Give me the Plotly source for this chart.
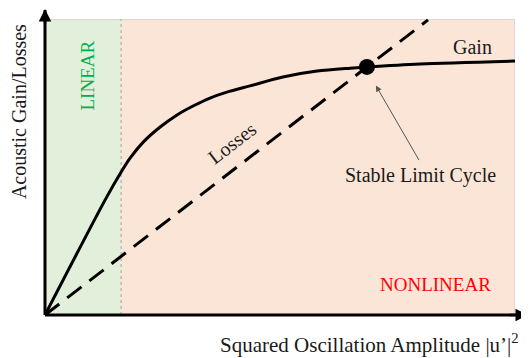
import plotly.graph_objects as go

# ---- data (arbitrary units, x: 0..10, y: 0..10) ----
gain_x = [0, 1.28, 1.62, 1.81, 2.09, 2.45, 2.81, 3.15, 3.51, 3.87, 4.36, 5.06, 5.79, 6.49, 6.85, 7.98, 10.0]
gain_y = [0, 3.89, 4.83, 5.30, 5.84, 6.35, 6.76, 7.06, 7.33, 7.53, 7.74, 8.04, 8.24, 8.34, 8.38, 8.48, 8.58]
loss_x = [0, 8.15]
loss_y = [0, 9.97]
limit_x = [6.85]
limit_y = [8.38]
linear_end = 1.62

FONT = "Liberation Serif, Times New Roman, serif"
TXT = "#1a1a1a"

fig = go.Figure()
fig.add_trace(go.Scatter(x=gain_x, y=gain_y, mode="lines", line=dict(color="black", width=3, shape="spline", smoothing=0.8),
                         hoverinfo="skip", showlegend=False))
fig.add_trace(go.Scatter(x=loss_x, y=loss_y, mode="lines", line=dict(color="black", width=3, dash="18px,10px"),
                         hoverinfo="skip", showlegend=False))
fig.add_trace(go.Scatter(x=limit_x, y=limit_y, mode="markers", marker=dict(color="black", size=16),
                         hoverinfo="skip", showlegend=False))

shapes = [
    dict(type="rect", xref="x", yref="y", x0=0, x1=linear_end, y0=0, y1=10, fillcolor="#e2efda", line=dict(width=0), layer="below"),
    dict(type="rect", xref="x", yref="y", x0=linear_end, x1=10, y0=0, y1=10, fillcolor="#fbe5d6", line=dict(width=0), layer="below"),
    dict(type="line", xref="x", yref="y", x0=0, x1=10, y0=10, y1=10, line=dict(color="#c8c8c8", width=1), layer="below"),
    dict(type="line", xref="x", yref="y", x0=10, x1=10, y0=0, y1=10, line=dict(color="#c8c8c8", width=1), layer="below"),
    dict(type="line", xref="x", yref="y", x0=linear_end, x1=linear_end, y0=0, y1=10, line=dict(color="#a0a0a0", width=1, dash="dot"), layer="below"),
    # axes
    dict(type="line", xref="paper", yref="paper", x0=0, x1=0, y0=0, y1=1.03, line=dict(color="black", width=3)),
    dict(type="line", xref="paper", yref="paper", x0=0, x1=1.015, y0=0, y1=0, line=dict(color="black", width=3)),
]

annotations = [
    # axis arrowheads
    dict(xref="paper", yref="paper", x=0, y=1.047, ax=0, ay=20, text="", showarrow=True, arrowhead=2, arrowsize=1, arrowwidth=2.5, arrowcolor="black"),
    dict(xref="paper", yref="paper", x=1.028, y=0, ax=-20, ay=0, text="", showarrow=True, arrowhead=2, arrowsize=1, arrowwidth=2.5, arrowcolor="black"),
    # axis titles
    dict(xref="paper", yref="paper", x=-0.055, y=0.686, text="Acoustic Gain/Losses", textangle=-90, showarrow=False,
         font=dict(family=FONT, size=20, color=TXT), xanchor="center", yanchor="middle"),
    dict(xref="paper", yref="paper", x=0.69, y=-0.095, text="Squared Oscillation Amplitude |u’|<sup>2</sup>", showarrow=False,
         font=dict(family=FONT, size=21, color=TXT), xanchor="center", yanchor="middle"),
    # labels
    dict(xref="x", yref="y", x=9.1, y=9.05, text="Gain", showarrow=False, font=dict(family=FONT, size=20, color=TXT)),
    dict(xref="x", yref="y", x=3.98, y=5.8, text="Losses", textangle=-37.6, showarrow=False, font=dict(family=FONT, size=20, color=TXT)),
    dict(xref="x", yref="y", x=7.98, y=4.7, text="Stable Limit Cycle", showarrow=False, font=dict(family=FONT, size=20, color=TXT)),
    dict(xref="x", yref="y", x=7.04, y=7.75, ax=44, ay=76, text="", showarrow=True, arrowhead=2, arrowsize=1.2,
         arrowwidth=1, arrowcolor="#555555"),
    dict(xref="x", yref="y", x=0.9, y=8.1, text="LINEAR", textangle=-90, showarrow=False, font=dict(family=FONT, size=19, color="#00b050")),
    dict(xref="x", yref="y", x=8.3, y=1.02, text="NONLINEAR", showarrow=False, font=dict(family=FONT, size=19, color="#ff0000")),
]

# The page body has an 8px default margin, so the figure is sized/offset to compensate.
fig.update_layout(
    width=521, height=350,
    margin=dict(l=37, r=14, t=11, b=43),
    paper_bgcolor="white", plot_bgcolor="white",
    xaxis=dict(range=[0, 10], visible=False, fixedrange=True),
    yaxis=dict(range=[0, 10], visible=False, fixedrange=True),
    shapes=shapes, annotations=annotations,
)

fig.write_html("out.html")
